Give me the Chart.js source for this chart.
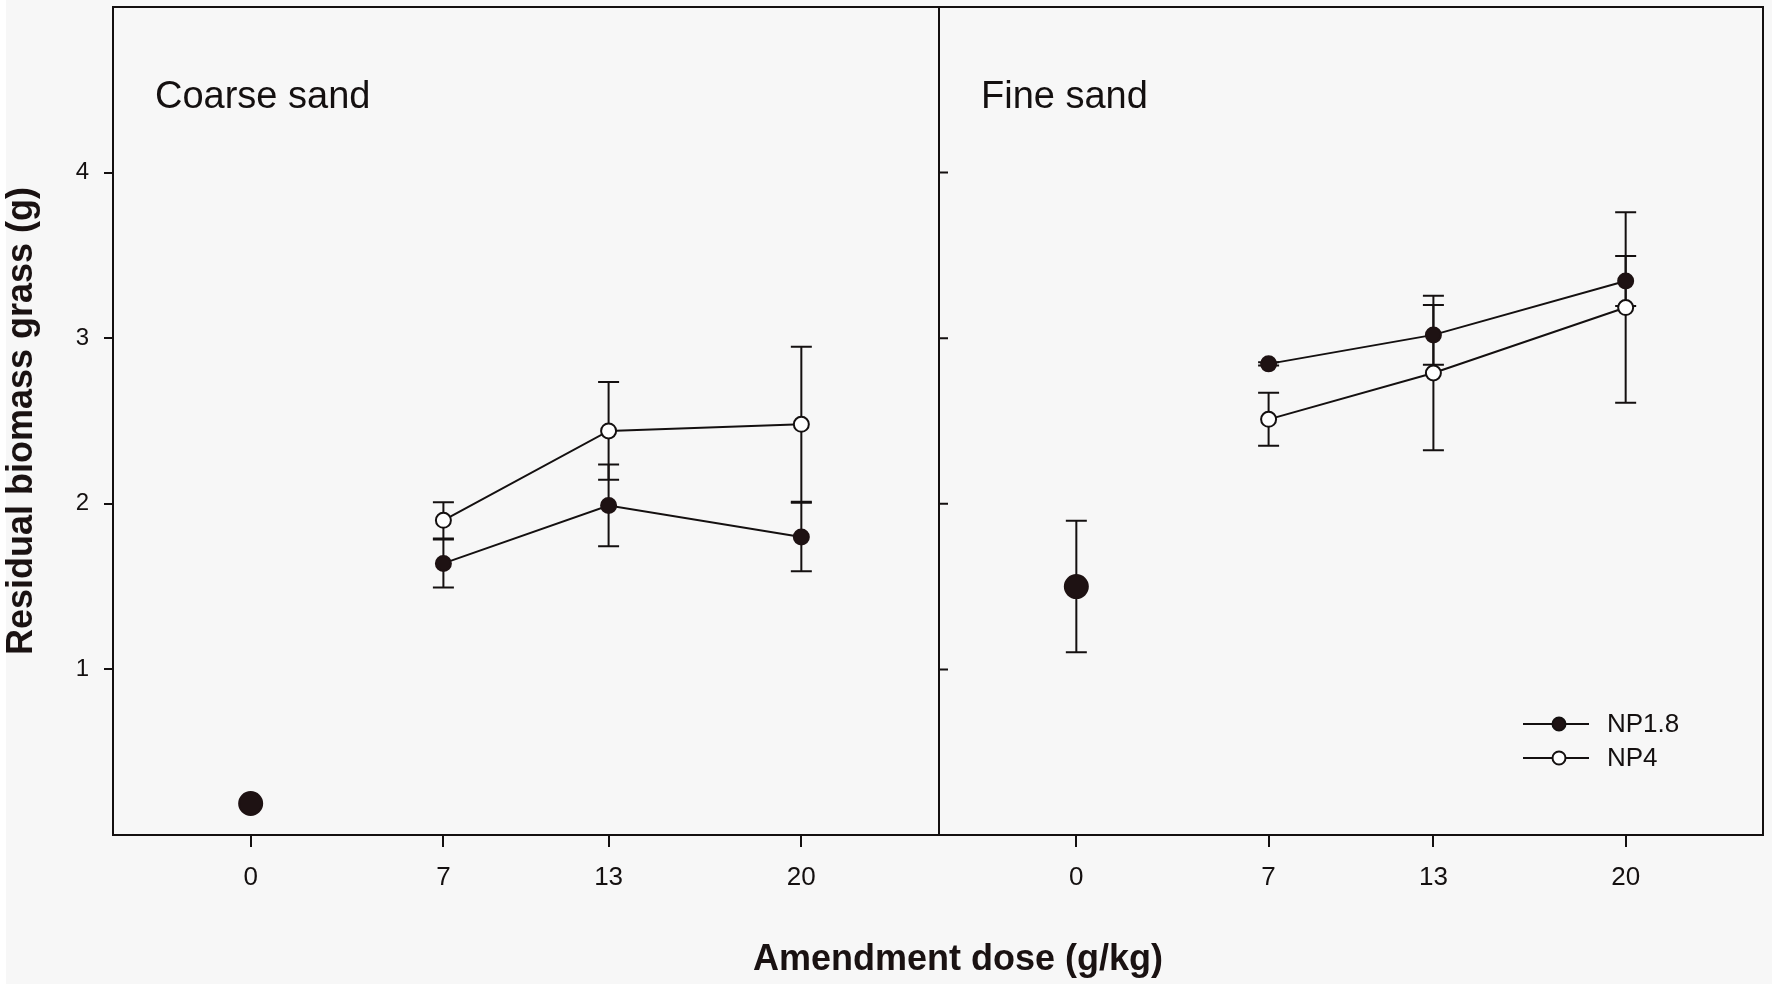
<!DOCTYPE html>
<html><head><meta charset="utf-8">
<script src="https://cdn.jsdelivr.net/npm/chart.js@4.4.1/dist/chart.umd.min.js"></script>
<style>
html,body{margin:0;padding:0;background:#ffffff;}
#wrap{position:absolute;left:0;top:0;width:1772px;height:986px;overflow:hidden;}
#bg{position:absolute;left:6px;top:0;width:1766px;height:984px;background:#f7f7f7;}
.c{position:absolute;left:0;top:0;width:1772px;height:986px;}
#xtitle{position:absolute;left:958px;top:940px;transform:translateX(-50%);font:bold 36px 'Liberation Sans',Arial,sans-serif;line-height:36px;color:#1a1212;white-space:nowrap;}
</style></head><body>
<div id="wrap"><div id="bg"></div>
<div class="c"><canvas id="c1"></canvas></div>
<div class="c"><canvas id="c2"></canvas></div>
<div id="xtitle"></div>
</div>
<script>
// ---------- data ----------
const PANEL_TITLES = ['Coarse sand', 'Fine sand'];
const X_TITLE = 'Amendment dose (g/kg)';
const Y_TITLE = 'Residual biomass grass (g)';
const SERIES_NAMES = ['NP1.8', 'NP4'];
const X_TICKS = [0, 7, 13, 20];
const Y_TICKS = [1, 2, 3, 4];
const CONTROL_DOSE = 0;
const DOSES = [7, 13, 20];

// Coarse sand
const coarseControl = 0.19;
const coarseControlErr = 0.012;
const coarseNP18 = [1.64, 1.99, 1.80];
const coarseNP18Err = [0.145, 0.247, 0.207];
const coarseNP4 = [1.90, 2.44, 2.48];
const coarseNP4Err = [0.11, 0.295, 0.468];

// Fine sand
const fineControl = 1.50;
const fineControlErr = 0.397;
const fineNP18 = [2.845, 3.02, 3.345];
const fineNP18Err = [0.01, 0.18, 0.151];
const fineNP4 = [2.51, 2.79, 3.185];
const fineNP4Err = [0.16, 0.466, 0.575];

// ---------- styles ----------
const DARK = '#1e1213';
const LINE = '#141010';
const FONT = "'Liberation Sans', Arial, sans-serif";
const CAP = 10.5;

document.getElementById('xtitle').textContent = X_TITLE;

function zeroPad(s) { s.paddingTop = 0; s.paddingBottom = 0; s.paddingLeft = 0; s.paddingRight = 0; }

function makeDatasets(ctrl, ctrlErr, np18, np18Err, np4, np4Err) {
  return [
    { label: 'control', data: [{x: CONTROL_DOSE, y: ctrl}], errors: [ctrlErr],
      showLine: false, pointRadius: 11.5, pointHoverRadius: 11.5,
      pointBackgroundColor: DARK, pointBorderColor: DARK, pointBorderWidth: 2 },
    { label: SERIES_NAMES[0], data: DOSES.map((d, i) => ({x: d, y: np18[i]})), errors: np18Err,
      showLine: true, borderColor: LINE, borderWidth: 2, pointRadius: 7.5, pointHoverRadius: 7.5,
      pointBackgroundColor: DARK, pointBorderColor: DARK, pointBorderWidth: 2 },
    { label: SERIES_NAMES[1], data: DOSES.map((d, i) => ({x: d, y: np4[i]})), errors: np4Err,
      showLine: true, borderColor: LINE, borderWidth: 2, pointRadius: 7.5, pointHoverRadius: 7.5,
      pointBackgroundColor: '#ffffff', pointBorderColor: LINE, pointBorderWidth: 2 }
  ];
}

const errorBars = {
  id: 'errorBars',
  beforeDatasetsDraw(chart) {
    const {ctx, scales: {x, y}} = chart;
    ctx.save();
    ctx.strokeStyle = LINE; ctx.lineWidth = 2;
    chart.data.datasets.forEach(ds => {
      ds.data.forEach((p, i) => {
        const e = ds.errors[i];
        const px = x.getPixelForValue(p.x);
        const t = y.getPixelForValue(p.y + e), b = y.getPixelForValue(p.y - e);
        ctx.beginPath();
        ctx.moveTo(px, t); ctx.lineTo(px, b);
        ctx.moveTo(px - CAP, t); ctx.lineTo(px + CAP, t);
        ctx.moveTo(px - CAP, b); ctx.lineTo(px + CAP, b);
        ctx.stroke();
      });
    });
    ctx.restore();
  }
};

const frame = {
  id: 'frame',
  afterDraw(chart, args, opts) {
    const {ctx, chartArea: a, scales: {y}} = chart;
    ctx.save();
    ctx.strokeStyle = LINE; ctx.lineWidth = 2;
    ctx.strokeRect(a.left, a.top, a.right - a.left, a.bottom - a.top);
    if (opts.innerTicks) {
      ctx.beginPath();
      Y_TICKS.forEach(v => {
        const py = y.getPixelForValue(v);
        ctx.moveTo(a.left, py); ctx.lineTo(a.left + 9, py);
      });
      ctx.stroke();
    }
    ctx.fillStyle = '#141010';
    ctx.font = '38px ' + FONT;
    ctx.textBaseline = 'alphabetic'; ctx.textAlign = 'left';
    ctx.fillText(opts.title, a.left + 42, 108);
    if (opts.legend) {
      const rows = [a.bottom - 111, a.bottom - 77];
      const fills = [DARK, '#ffffff'];
      ctx.font = '26px ' + FONT;
      ctx.textBaseline = 'middle';
      rows.forEach((ry, i) => {
        ctx.beginPath();
        ctx.moveTo(a.right - 240, ry); ctx.lineTo(a.right - 174, ry);
        ctx.stroke();
        ctx.beginPath();
        ctx.arc(a.right - 204, ry, 6.5, 0, Math.PI * 2);
        ctx.fillStyle = fills[i]; ctx.fill(); ctx.stroke();
        ctx.fillStyle = '#141010';
        ctx.fillText(SERIES_NAMES[i], a.right - 156, ry + 1);
      });
    }
    ctx.restore();
  }
};

function xScale() {
  return {
    type: 'linear', min: -5, max: 25,
    afterBuildTicks: s => { s.ticks = X_TICKS.map(v => ({value: v})); },
    afterFit: s => { s.height = 151; zeroPad(s); },
    border: {display: false},
    grid: {drawOnChartArea: false, drawTicks: true, tickLength: 12, color: LINE, lineWidth: 2},
    ticks: {padding: 15, color: '#141010', font: {family: FONT, size: 26}, maxRotation: 0, autoSkip: false}
  };
}

function makeChart(id, datasets, opts) {
  const yScale = opts.left ? {
    type: 'linear', min: 0, max: 5,
    afterBuildTicks: s => { s.ticks = Y_TICKS.map(v => ({value: v})); },
    afterFit: s => { s.width = 113; zeroPad(s); },
    border: {display: false},
    grid: {drawOnChartArea: false, drawTicks: true, tickLength: 9, color: LINE, lineWidth: 2},
    ticks: {padding: 15, color: '#141010', font: {family: FONT, size: 24}},
    title: {display: true, text: Y_TITLE, color: '#1a1212', padding: 0,
            font: {family: FONT, size: 36, weight: 'bold'}}
  } : { type: 'linear', min: 0, max: 5, display: false,
        afterFit: s => { s.width = 0; zeroPad(s); } };
  return new Chart(document.getElementById(id), {
    type: 'scatter',
    data: {datasets},
    options: {
      responsive: true, maintainAspectRatio: false, animation: false,
      layout: {padding: opts.padding, autoPadding: false},
      scales: {x: xScale(), y: yScale},
      plugins: {
        legend: {display: false}, tooltip: {enabled: false},
        frame: {title: opts.title, innerTicks: !opts.left, legend: !!opts.legend}
      }
    },
    plugins: [errorBars, frame]
  });
}

makeChart('c1', makeDatasets(coarseControl, coarseControlErr, coarseNP18, coarseNP18Err, coarseNP4, coarseNP4Err),
  {left: true, title: PANEL_TITLES[0], padding: {left: 0, right: 1772 - 939, top: 7, bottom: 0}});
makeChart('c2', makeDatasets(fineControl, fineControlErr, fineNP18, fineNP18Err, fineNP4, fineNP4Err),
  {left: false, legend: true, title: PANEL_TITLES[1], padding: {left: 939, right: 9, top: 7, bottom: 0}});
</script>
</body></html>
